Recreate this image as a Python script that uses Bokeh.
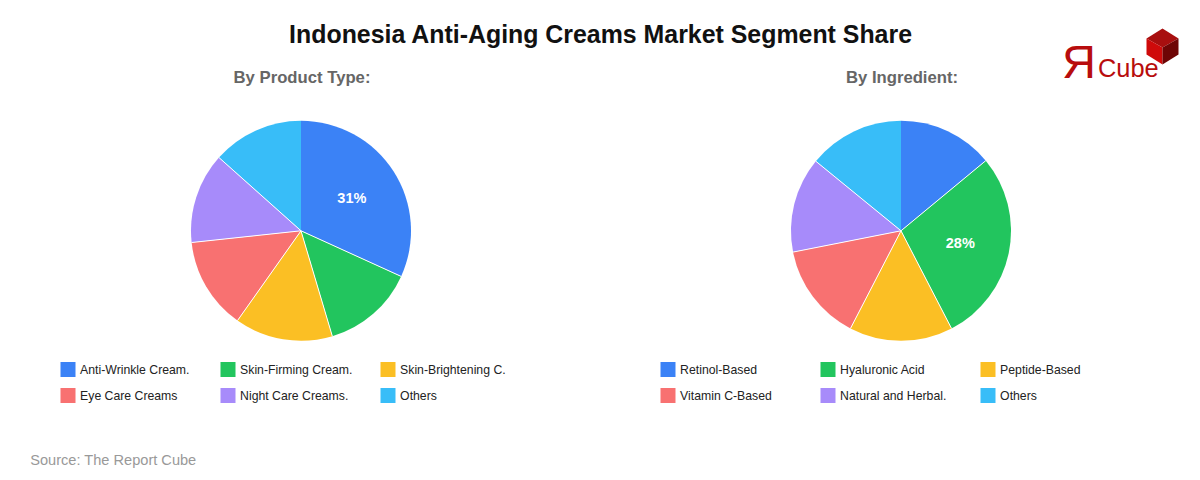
import math
from bokeh.plotting import figure
from bokeh.embed import file_html
from bokeh.resources import INLINE
from bokeh.core.properties import value

title = "Indonesia Anti-Aging Creams Market Segment Share"
source_note = "Source: The Report Cube"
colors = ["#3b82f6", "#22c55e", "#fbbf24", "#f87171", "#a78bfa", "#38bdf8"]

product_title = "By Product Type:"
product_labels = ["Anti-Wrinkle Cream.", "Skin-Firming Cream.", "Skin-Brightening C.",
                  "Eye Care Creams", "Night Care Creams.", "Others"]
product_values = [31.8, 13.6, 14.4, 13.5, 13.3, 13.4]
product_callout = "31%"

ingredient_title = "By Ingredient:"
ingredient_labels = ["Retinol-Based", "Hyaluronic Acid", "Peptide-Based",
                     "Vitamin C-Based", "Natural and Herbal.", "Others"]
ingredient_values = [14.0, 28.4, 15.2, 14.3, 14.0, 14.1]
ingredient_callout = "28%"

FONT = value("Liberation Sans")
W, H = 1200, 480
p = figure(width=W, height=H, x_range=(0, W), y_range=(0, H),
           output_backend="svg", toolbar_location=None, min_border=0,
           outline_line_color=None, background_fill_color="white")
p.axis.visible = False
p.grid.visible = False


def Y(py):
    return H - py


def txt(x, y, s, size, color, bold=False, align="center"):
    p.text([x], [Y(y)], text=[s], text_font=FONT, text_font_size=f"{size}px",
           text_font_style="bold" if bold else "normal", text_color=color,
           text_align=align, text_baseline="middle")


def pie(cx, cy, r, values, labels, heading, callout, callout_idx, leg_x):
    total = sum(values)
    edges = [0.0]
    for v in values:
        edges.append(edges[-1] + v / total * 2 * math.pi)
    starts = [math.pi / 2 - a for a in edges[:-1]]
    ends = [math.pi / 2 - a for a in edges[1:]]
    p.wedge(x=[cx] * 6, y=[Y(cy)] * 6, radius=r, start_angle=starts, end_angle=ends,
            direction="clock", fill_color=colors, line_color=None)
    inner = edges[1:-1]
    p.segment(x0=[cx] * 5, y0=[Y(cy)] * 5,
              x1=[cx + r * math.sin(a) for a in inner],
              y1=[Y(cy) + r * math.cos(a) for a in inner],
              line_color="white", line_width=1)
    mid = (edges[callout_idx] + edges[callout_idx + 1]) / 2
    txt(cx + r * 0.55 * math.sin(mid), cy - 0.3 - r * 0.55 * math.cos(mid), callout, 14.5, "white", True)
    txt(cx + 1, 77, heading, 16.7, "#666666", True)
    for i, lab in enumerate(labels):
        lx = leg_x + 160 * (i % 3)
        ly = 369 + 26 * (i // 3)
        p.rect([lx + 7.5], [Y(ly)], width=15, height=15, fill_color=colors[i], line_color=None)
        txt(lx + 19.6, ly, lab, 12.25, "#222222", align="left")


pie(300.5, 230.3, 110, product_values, product_labels, product_title, product_callout, 0, 60)
pie(900.5, 230.3, 110, ingredient_values, ingredient_labels, ingredient_title, ingredient_callout, 1, 660)

txt(600.5, 33, title, 24.9, "#111111", True)
txt(29.7, 459.5, source_note, 14.6, "#999999", align="left")

# logo
txt(1061.5, 61, "Я", 47, "#b80d0d", align="left")
txt(1097.5, 67, "Cube", 25.4, "#b80d0d", align="left")
p.patch([1162, 1178, 1162, 1146], [Y(28), Y(38), Y(47), Y(38)], fill_color="#a80f0f", line_color=None)
p.patch([1146, 1162, 1162, 1146], [Y(38), Y(47), Y(64), Y(54)], fill_color="#cf0a0a", line_color=None)
p.patch([1162, 1178, 1178, 1162], [Y(47), Y(38), Y(54), Y(64)], fill_color="#6e0505", line_color=None)

open("out.html", "w").write(file_html(p, INLINE))
